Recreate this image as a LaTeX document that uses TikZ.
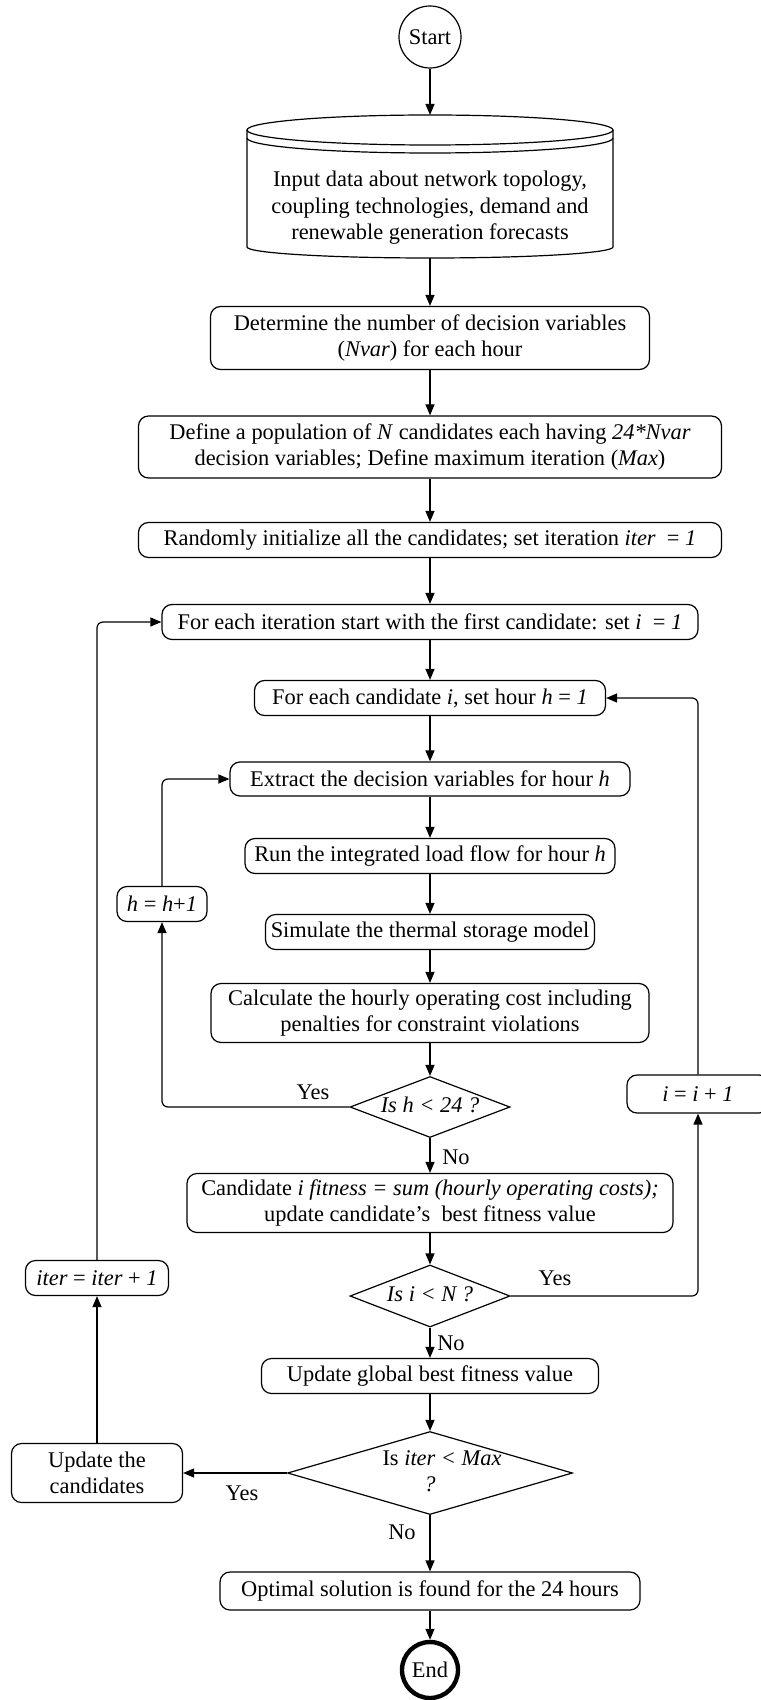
\documentclass[tikz,border=0pt]{standalone}
\usepackage{fontspec}
\setmainfont{Liberation Serif}
\usetikzlibrary{arrows.meta, shapes.geometric}

\tikzset{
    stepbox/.style = {draw, rounded corners=5pt, line width=0.6pt, align=center, inner sep=1pt},
    testbox/.style = {draw, diamond, line width=0.6pt, inner sep=0pt},
    termbox/.style = {draw, circle, line width=0.6pt, inner sep=0pt},
    link/.style = {-{Triangle[length=5.5pt, width=4.5pt]}, line width=0.6pt, rounded corners=3pt},
}

% Text of a diamond takes no room, so the diamond keeps its given size.
\newcommand{\testtext}[1]{\makebox[0pt]{\begin{tabular}{@{}c@{}}#1\end{tabular}}}

\begin{document}
\begin{tikzpicture}[x=0.5pt, y=0.5pt, font=\fontsize{11.2}{13.2}\selectfont]

        % Page frame, white behind everything.
        \fill[white] (0,0) rectangle (760,-1700);
        \useasboundingbox (0,0) rectangle (760,-1700);

        % Start and input data.
        \node[termbox, minimum size=31pt] (start) at (430,-37) {Start};
        \coordinate (intop) at (430,-115);
        \coordinate (inbot) at (430,-258);
        \draw[line width=0.6pt] (247,-130) -- (247,-247)
            arc[start angle=180, end angle=360, x radius=183, y radius=11] -- (613,-130);
        \draw[line width=0.6pt] (430,-130) ellipse [x radius=183, y radius=15];
        \draw[line width=0.6pt] (247,-138) arc[start angle=180, end angle=360, x radius=183, y radius=15];
        \node[align=center] (input) at (430,-208)
            {Input data about network topology,\\ coupling technologies, demand and\\ renewable generation forecasts};

        % Set up of the search.
        \node[stepbox, minimum width=219.5pt, minimum height=31.5pt] (nvar) at (430,-338)
            {Determine the number of decision variables\\ (\textit{Nvar}) for each hour};
        \node[stepbox, minimum width=291.5pt, minimum height=31pt] (popu) at (430,-447)
            {Define a population of \textit{N} candidates each having \textit{24*Nvar}\\ decision variables; Define maximum iteration (\textit{Max})};
        \node[stepbox, minimum width=291.5pt, minimum height=17.5pt] (init) at (430,-540)
            {Randomly initialize all the candidates; set iteration \textit{iter} \ = \textit{1}};

        % Loops over iterations, candidates and hours.
        \node[stepbox, minimum width=268pt, minimum height=17.5pt] (iter) at (430,-622)
            {For each iteration start with the first candidate: set \textit{i} \ = \textit{1}};
        \node[stepbox, minimum width=175.5pt, minimum height=17.5pt] (cand) at (430,-698)
            {For each candidate \textit{i}, set hour \textit{h} = \textit{1}};
        \node[stepbox, minimum width=200pt, minimum height=17pt] (extr) at (430,-779)
            {Extract the decision variables for hour \textit{h}};
        \node[stepbox, minimum width=185pt, minimum height=17.5pt] (flow) at (430,-856)
            {Run the integrated load flow for hour \textit{h}};
        \node[stepbox, minimum width=164.5pt, minimum height=17.5pt] (stor) at (430,-932)
            {Simulate the thermal storage model};
        \node[stepbox, minimum width=219pt, minimum height=29.5pt] (cost) at (430,-1013)
            {Calculate the hourly operating cost including\\ penalties for constraint violations};
        \node[testbox, minimum width=80pt, minimum height=30.5pt] (hchk) at (430,-1107)
            {\testtext{\textit{Is h < 24 ?}}};
        \node[stepbox, minimum width=243pt, minimum height=29.5pt] (fit) at (430,-1203)
            {Candidate \textit{i fitness = sum (hourly operating costs);}\\ update candidate's \ best fitness value};
        \node[testbox, minimum width=80pt, minimum height=31pt] (ichk) at (430,-1296)
            {\testtext{\textit{Is i < N ?}}};
        \node[stepbox, minimum width=168.5pt, minimum height=17.5pt] (glob) at (430,-1376)
            {Update global best fitness value};
        \node[testbox, minimum width=142.5pt, minimum height=41.5pt] (mchk) at (430,-1473)
            {\testtext{\hspace{12pt}Is \textit{iter < Max}\\ \textit{?}}};
        \node[stepbox, minimum width=210pt, minimum height=19pt] (opt) at (430,-1591)
            {Optimal solution is found for the 24 hours};
        \node[termbox, line width=2.2pt, minimum size=28pt] (endn) at (430,-1670) {End};

        % Counters and update boxes on the sides.
        \node[stepbox, minimum width=45pt, minimum height=17.5pt] (hinc) at (162,-904)
            {\textit{h} = \textit{h}+\textit{1}};
        \node[stepbox, minimum width=71pt, minimum height=19pt] (iinc) at (698,-1094)
            {\textit{i} = \textit{i} + \textit{1}};
        \node[stepbox, minimum width=71.5pt, minimum height=17.5pt] (itinc) at (97,-1278)
            {\textit{iter} = \textit{iter} + \textit{1}};
        \node[stepbox, minimum width=85.5pt, minimum height=29.5pt] (upd) at (97,-1473)
            {Update the\\ candidates};

        % Main flow down the middle.
        \foreach \a/\b in {start/intop, inbot/nvar, nvar/popu, popu/init, init/iter,
                           iter/cand, cand/extr, extr/flow, flow/stor, stor/cost,
                           cost/hchk, hchk/fit, fit/ichk, ichk/glob, glob/mchk,
                           mchk/opt, opt/endn}{
            \draw[link] (\a) -- (\b);
        }

        % Hour loop.
        \draw[link] (hchk.west) -| (hinc.south);
        \draw[link] (hinc.north) |- (extr.west);

        % Candidate loop.
        \draw[link] (ichk.east) -| (iinc.south);
        \draw[link] (iinc.north) |- (cand.east);

        % Iteration loop.
        \draw[link] (mchk.west) -- (upd.east);
        \draw[link] (upd.north) -- (itinc.south);
        \draw[link] (itinc.north) |- (iter.west);

        % Yes and No labels.
        \node (yes1) at (313,-1092) {Yes};
        \node (no1) at (456,-1157) {No};
        \node (yes2) at (555,-1278) {Yes};
        \node (no2) at (451,-1343) {No};
        \node (yes3) at (242,-1493) {Yes};
        \node (no3) at (402,-1532) {No};
    \end{tikzpicture}
\end{document}
